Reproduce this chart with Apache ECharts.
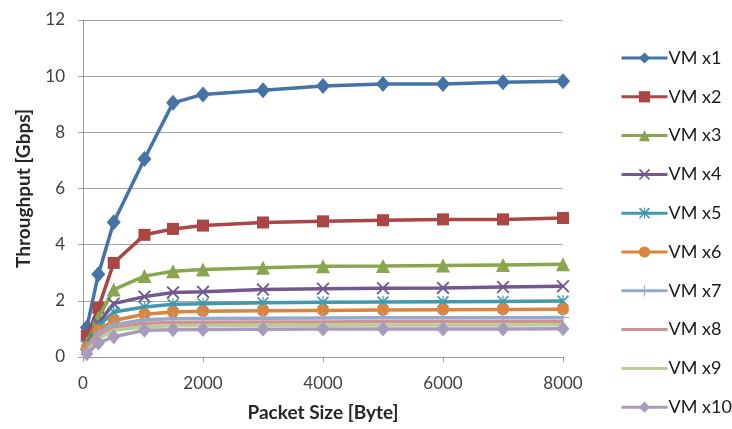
<!DOCTYPE html>
<html>
<head>
<meta charset="utf-8">
<script src="https://cdn.jsdelivr.net/npm/echarts@6/dist/echarts.min.js"></script>
<style>
html,body{margin:0;padding:0;background:#fff;}
#chart{width:732px;height:429px;}
</style>
</head>
<body>
<div id="chart"></div>
<script>
const packetSizes = [64, 256, 512, 1024, 1500, 2000, 3000, 4000, 5000, 6000, 7000, 8000];
const seriesNames = ['VM x1','VM x2','VM x3','VM x4','VM x5','VM x6','VM x7','VM x8','VM x9','VM x10'];
const vm1  = [1.05, 2.95, 4.80, 7.05, 9.05, 9.35, 9.50, 9.65, 9.72, 9.72, 9.78, 9.82];
const vm2  = [0.75, 1.75, 3.35, 4.35, 4.56, 4.68, 4.79, 4.83, 4.87, 4.90, 4.90, 4.95];
const vm3  = [0.50, 1.40, 2.40, 2.88, 3.05, 3.12, 3.18, 3.23, 3.24, 3.26, 3.28, 3.30];
const vm4  = [0.45, 1.20, 1.90, 2.15, 2.30, 2.32, 2.40, 2.43, 2.45, 2.46, 2.49, 2.52];
const vm5  = [0.40, 1.10, 1.60, 1.78, 1.88, 1.90, 1.93, 1.95, 1.96, 1.97, 1.98, 1.99];
const vm6  = [0.35, 0.95, 1.30, 1.52, 1.60, 1.63, 1.65, 1.66, 1.67, 1.68, 1.69, 1.70];
const vm7  = [0.30, 0.85, 1.15, 1.33, 1.36, 1.37, 1.38, 1.39, 1.40, 1.40, 1.40, 1.41];
const vm8  = [0.25, 0.75, 1.05, 1.20, 1.23, 1.24, 1.25, 1.25, 1.26, 1.26, 1.26, 1.27];
const vm9  = [0.20, 0.65, 0.95, 1.08, 1.11, 1.12, 1.13, 1.13, 1.14, 1.14, 1.14, 1.15];
const vm10 = [0.12, 0.50, 0.72, 0.95, 0.97, 0.98, 0.99, 1.00, 1.00, 1.00, 1.00, 1.01];
const seriesValues = [vm1, vm2, vm3, vm4, vm5, vm6, vm7, vm8, vm9, vm10];

const colors = ['#4572A7','#AA4643','#89A54E','#71588F','#4198AF','#DB843D','#93A9CF','#D19392','#B9CD96','#A99BBD'];
const X_PATH = 'path://M0,1L1,0L5,4L9,0L10,1L6,5L10,9L9,10L5,6L1,10L0,9L4,5Z';
const STAR_PATH = 'path://M4.5,0L5.5,0L5.5,10L4.5,10Z M0,1L1,0L5,4L9,0L10,1L6,5L10,9L9,10L5,6L1,10L0,9L4,5Z';
const PLUS_PATH = 'path://M4.5,0L5.5,0L5.5,4.5L10,4.5L10,5.5L5.5,5.5L5.5,10L4.5,10L4.5,5.5L0,5.5L0,4.5L4.5,4.5Z';
const symbols = ['diamond','rect','triangle',X_PATH,STAR_PATH,'circle',PLUS_PATH,'none','none','diamond'];
const symbolSizes = [[14,16],12,14,13,12,12,12,0,0,[13,15]];

const FONT = 'Lato';
const series = seriesNames.map((name, i) => ({
  name: name,
  type: 'line',
  data: packetSizes.map((x, j) => [x, seriesValues[i][j]]),
  symbol: symbols[i],
  symbolSize: symbolSizes[i],
  showSymbol: symbols[i] !== 'none',
  lineStyle: {color: colors[i], width: 3.5},
  itemStyle: {color: colors[i]},
  emphasis: {disabled: true},
  animation: false,
  z: 2 + i
}));

const legends = seriesNames.map((name, i) => {
  const lg = {
    data: [name],
    orient: 'vertical',
    left: 615,
    top: 44 + i * 38.8,
    itemWidth: 46,
    itemHeight: 14,
    itemGap: 0,
    textStyle: {fontFamily: FONT, fontSize: 18, color: '#1a1a1a', padding: [0,0,0,-4]},
    lineStyle: {width: 3},
    selectedMode: false
  };
  if (symbols[i] === 'none') lg.itemStyle = {opacity: 0};
  return lg;
});

const chart = echarts.init(document.getElementById('chart'), null, {renderer: 'canvas'});
chart.setOption({
  backgroundColor: '#ffffff',
  animation: false,
  color: colors,
  legend: legends,
  grid: {left: 83, right: 169, top: 20, bottom: 72, containLabel: false},
  xAxis: {
    type: 'value',
    min: 0, max: 8000, interval: 2000,
    name: 'Packet Size [Byte]',
    nameLocation: 'middle',
    nameGap: 46,
    nameTextStyle: {fontFamily: FONT, fontSize: 19, fontWeight: 'bold', color: '#262626'},
    axisLine: {show: true, lineStyle: {color: '#9a9a9a', width: 1}},
    axisTick: {show: true, inside: false, length: 5, lineStyle: {color: '#9a9a9a'}},
    axisLabel: {fontFamily: FONT, fontSize: 17, color: '#404040', margin: 18, formatter: v => String(v)},
    splitLine: {show: false}
  },
  yAxis: {
    type: 'value',
    min: 0, max: 12, interval: 2,
    name: 'Throughput [Gbps]',
    nameLocation: 'middle',
    nameGap: 50,
    nameTextStyle: {fontFamily: FONT, fontSize: 19, fontWeight: 'bold', color: '#262626'},
    axisLine: {show: true, lineStyle: {color: '#9a9a9a', width: 1}},
    axisTick: {show: true, inside: false, length: 5, lineStyle: {color: '#9a9a9a'}},
    axisLabel: {fontFamily: FONT, fontSize: 17, color: '#404040', margin: 18},
    splitLine: {show: true, lineStyle: {color: '#a6a6a6', width: 1}}
  },
  series: series
});
</script>
</body>
</html>
